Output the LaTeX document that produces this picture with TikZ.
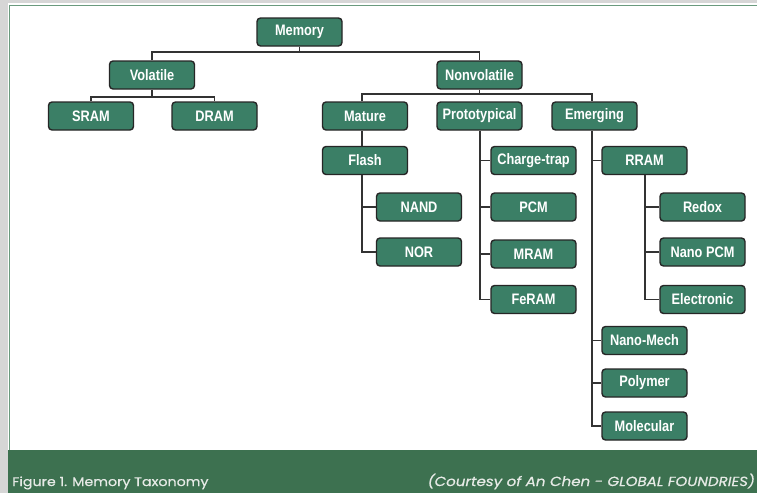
\documentclass[tikz,border=0pt]{standalone}
\usepackage{fontspec}
\newfontfamily\boxfont[FakeStretch=0.84]{Liberation Sans}
\newfontfamily\capfont[FakeStretch=1.14,FakeBold=0.6]{Poppins}
\definecolor{bggray}{HTML}{D6D6D6}
\definecolor{bordergreen}{HTML}{6A9A7E}
\definecolor{bandgreen}{HTML}{3D7150}
\definecolor{boxgreen}{HTML}{3B7F66}
\definecolor{linegray}{HTML}{333333}
\definecolor{captext}{HTML}{E6EAE6}
\tikzset{
  mbox/.style={rectangle, rounded corners=3.5pt, draw=black!85, line width=1.4pt,
    fill=boxgreen, text=white, font=\boxfont\bfseries\fontsize{15.2}{15}\selectfont,
    minimum width=85pt, minimum height=28pt, inner sep=0pt},
  conn/.style={draw=linegray, line width=1.2pt},
  captxt/.style={text=captext, inner sep=0pt, font=\capfont\fontsize{12.5}{13}\selectfont}
}
\begin{document}
\begin{tikzpicture}[x=1pt,y=-1pt]
\useasboundingbox (0,0) rectangle (757,493);
\fill[bggray] (0,0) rectangle (757,493);
\fill[white] (8,3) rectangle (757,450);
\draw[bordergreen, line width=1.6pt] (9.5,450) -- (9.5,5.5) -- (757,5.5);
\fill[bandgreen] (8,450) rectangle (757,493);

% nodes
\node[mbox] (mem) at (299.5,32) {Memory};
\node[mbox] (vol) at (152,75) {Volatile};
\node[mbox] (nonvol) at (479.5,75) {Nonvolatile};
\node[mbox] (sram) at (91,116) {SRAM};
\node[mbox] (dram) at (214.5,116) {DRAM};
\node[mbox] (mature) at (365,116) {Mature};
\node[mbox] (proto) at (479.5,116) {Prototypical};
\node[mbox] (emerg) at (594.5,116) {Emerging};
\node[mbox] (flash) at (365,160.5) {Flash};
\node[mbox] (charge) at (533.5,160.5) {Charge-trap};
\node[mbox] (rram) at (644.5,160.5) {RRAM};
\node[mbox] (nand) at (419,207) {NAND};
\node[mbox] (pcm) at (533.5,207) {PCM};
\node[mbox] (redox) at (702.5,207) {Redox};
\node[mbox] (nor) at (419,252) {NOR};
\node[mbox] (mram) at (533.5,254) {MRAM};
\node[mbox] (nanopcm) at (702.5,252) {Nano PCM};
\node[mbox] (feram) at (533.5,299.5) {FeRAM};
\node[mbox] (electronic) at (702.5,299.5) {Electronic};
\node[mbox] (nanomech) at (644.5,340.5) {Nano-Mech};
\node[mbox] (polymer) at (644.5,383) {Polymer};
\node[mbox] (molecular) at (644.5,426) {Molecular};

% bus levels and trunks
\coordinate (b1) at (0,52);
\coordinate (b2) at (0,97);
\coordinate (b3) at (0,94);
\coordinate (tM) at (362,0);
\coordinate (tP) at (480,0);
\coordinate (tE) at (592,0);
\coordinate (tR) at (645,0);

% Memory
\draw[conn] (mem.south) -- (mem.south |- b1);
\draw[conn] (vol.north) -- (vol.north |- b1) -- (nonvol.north |- b1) -- (nonvol.north);
% Volatile
\draw[conn] (vol.south) -- (vol.south |- b2);
\draw[conn] (sram.north) -- (sram.north |- b2) -- (dram.north |- b2) -- (dram.north);
% Nonvolatile
\draw[conn] (nonvol.south) -- (nonvol.south |- b3);
\draw[conn] (tM |- mature.north) -- (tM |- b3) -- (tE |- b3) -- (tE |- emerg.north);
% Mature
\draw[conn] (tM |- mature.south) -- (tM |- flash.north);
\draw[conn] (tM |- flash.south) -- (tM |- nor.west) -- (nor.west);
\draw[conn] (tM |- nand.west) -- (nand.west);
% Prototypical
\draw[conn] (tP |- proto.south) -- (tP |- feram.west) -- (feram.west);
\draw[conn] (tP |- charge.west) -- (charge.west);
\draw[conn] (tP |- pcm.west) -- (pcm.west);
\draw[conn] (tP |- mram.west) -- (mram.west);
% Emerging
\draw[conn] (tE |- emerg.south) -- (tE |- molecular.west) -- (molecular.west);
\draw[conn] (tE |- rram.west) -- (rram.west);
\draw[conn] (tE |- nanomech.west) -- (nanomech.west);
\draw[conn] (tE |- polymer.west) -- (polymer.west);
% RRAM
\draw[conn] (tR |- rram.south) -- (tR |- electronic.west) -- (electronic.west);
\draw[conn] (tR |- redox.west) -- (redox.west);
\draw[conn] (tR |- nanopcm.west) -- (nanopcm.west);

% caption
\node[captxt, anchor=base west] (cap1) at (12,486) {Figure 1. Memory Taxonomy};
\node[captxt, anchor=base east, font=\capfont\itshape\fontsize{13.2}{14}\selectfont] (cap2) at (755,486) {(Courtesy of An Chen - GLOBAL FOUNDRIES)};
\end{tikzpicture}
\end{document}
